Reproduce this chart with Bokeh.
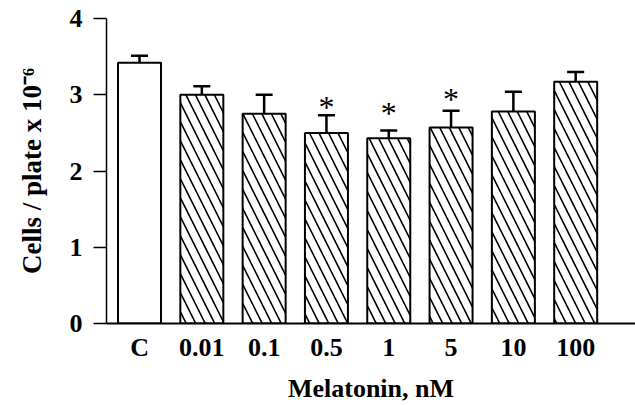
from bokeh.plotting import figure
from bokeh.models import Range1d, FixedTicker, Whisker, ColumnDataSource, TeeHead
from bokeh.core.properties import value
from bokeh.embed import file_html
from bokeh.resources import INLINE

categories = ["C", "0.01", "0.1", "0.5", "1", "5", "10", "100"]
means = [3.42, 3.00, 2.75, 2.50, 2.43, 2.57, 2.78, 3.17]
sem = [0.09, 0.11, 0.25, 0.23, 0.10, 0.22, 0.26, 0.13]
hatched = [False, True, True, True, True, True, True, True]
star_cats = ["0.5", "1", "5"]
star_levels = [2.84, 2.76, 2.94]
y_ticks = [0, 1, 2, 3, 4]

FONT = "Liberation Serif"

xpos = list(range(len(categories)))
src = ColumnDataSource(dict(
    x=xpos,
    top=means,
    upper=[m + e for m, e in zip(means, sem)],
    hatch=["\\" if h else " " for h in hatched],
))

p = figure(width=635, height=405, output_backend="svg", toolbar_location=None,
           x_range=Range1d(-0.53, 7.96), y_range=Range1d(0, 4),
           min_border_left=106, min_border_right=0, min_border_top=18,
           min_border_bottom=81)
p.outline_line_color = None
p.xgrid.visible = False
p.ygrid.visible = False

p.vbar(x="x", top="top", width=0.69, bottom=0, source=src,
       fill_color="white", line_color="black", line_width=2,
       hatch_pattern="hatch", hatch_color="black", hatch_scale=19,
       hatch_weight=1.6)

wh = Whisker(base="x", upper="upper", lower="top", source=src,
             line_color="black", line_width=2.5,
             upper_head=TeeHead(size=17, line_width=2.5, line_color="black"),
             lower_head=None)
p.add_layout(wh)

star_x = [categories.index(c) for c in star_cats]
p.text(x=star_x, y=star_levels, text=["*"] * len(star_x),
       text_font=value(FONT), text_font_size="32px", text_font_style="normal",
       text_align="center", text_baseline="middle", text_color="black")

# x axis
xa = p.xaxis[0]
xa.ticker = FixedTicker(ticks=xpos)
xa.major_label_overrides = {i: c for i, c in zip(xpos, categories)}
xa.major_tick_out = 0
xa.major_tick_in = 0
xa.minor_tick_out = 0
xa.minor_tick_in = 0
xa.axis_line_width = 2
xa.axis_line_color = "black"
xa.major_label_text_font = FONT
xa.major_label_text_font_size = "26px"
xa.major_label_text_font_style = "bold"
xa.major_label_text_color = "black"
xa.major_label_standoff = 9
xa.axis_label = "Melatonin, nM"
xa.axis_label_text_font = FONT
xa.axis_label_text_font_size = "26px"
xa.axis_label_text_font_style = "bold"
xa.axis_label_text_color = "black"
xa.axis_label_standoff = 9

# y axis
ya = p.yaxis[0]
ya.ticker = FixedTicker(ticks=y_ticks)
ya.major_tick_out = 13
ya.major_tick_in = 0
ya.minor_tick_out = 0
ya.minor_tick_in = 0
ya.axis_line_width = 1.5
ya.axis_line_color = "black"
ya.major_tick_line_width = 1.5
ya.major_tick_line_color = "black"
ya.major_label_text_font = FONT
ya.major_label_text_font_size = "26px"
ya.major_label_text_font_style = "bold"
ya.major_label_text_color = "black"
ya.major_label_standoff = 11
ya.axis_label = "Cells / plate x 10\u207b\u2076"
ya.axis_label_text_font = FONT
ya.axis_label_text_font_size = "27px"
ya.axis_label_text_font_style = "bold"
ya.axis_label_text_color = "black"
ya.axis_label_standoff = 20

open("out.html", "w").write(file_html(p, INLINE))
